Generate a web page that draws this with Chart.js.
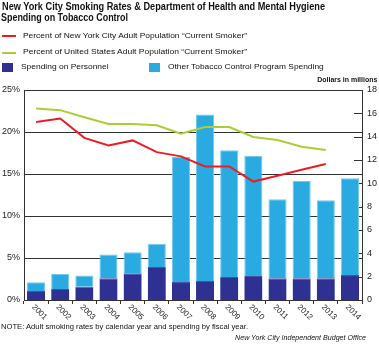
<!DOCTYPE html>
<html>
<head>
<meta charset="utf-8">
<script src="https://cdn.jsdelivr.net/npm/chart.js@4"></script>
<style>
  body { margin: 0; background: #fff; }
  #wrap { position: relative; width: 379px; height: 345px; font-family: "Liberation Sans", Arial, sans-serif; color: #111; }
  #wrap canvas { position: absolute; left: 0; top: 0; }
  .t { position: absolute; white-space: nowrap; line-height: 1; transform-origin: left top; }
  .r { transform-origin: right top; }
  .title { font-weight: bold; font-size: 10px; }
  .leg { font-size: 8px; }
  .swatch { position: absolute; }
</style>
</head>
<body>
<div id="wrap">
  <canvas id="grafica" width="379" height="345"></canvas>
  <div class="t title" style="left:2px;top:1.5px" data-w="323">New York City Smoking Rates &amp; Department of Health and Mental Hygiene</div>
  <div class="t title" style="left:1px;top:12.8px" data-w="127">Spending on Tobacco Control</div>
  <div id="leyenda"></div>
  <div class="t r" style="right:2px;top:76px;font-size:7px;font-weight:bold" data-w="60">Dollars in millions</div>
  <div class="t" style="left:1px;top:322.8px;font-size:7px" data-w="247">NOTE: Adult smoking rates by calendar year and spending by fiscal year.</div>
  <div class="t r" style="right:13px;top:334px;font-size:7px;font-style:italic" data-w="131">New York City Independent Budget Office</div>
</div>
<script>
const years = ["2001", "2002", "2003", "2004", "2005", "2006", "2007", "2008", "2009", "2010", "2011", "2012", "2013", "2014"];
// millions of dollars
const personnel = [0.77, 0.94, 1.14, 1.86, 2.3, 2.83, 1.54, 1.63, 1.97, 2.06, 1.86, 1.86, 1.86, 2.14];
const otherSpending = [0.75, 1.29, 0.96, 2.04, 1.8, 2.0, 10.71, 14.27, 10.86, 10.28, 6.77, 8.34, 6.68, 8.29];
// percent current smokers, calendar year
const nycRate = [21.2, 21.6, 19.3, 18.4, 19.0, 17.6, 17.1, 15.9, 15.9, 14.1, 14.8, 15.5, 16.2, null];
const usRate = [22.8, 22.6, 21.75, 20.95, 20.95, 20.8, 19.8, 20.6, 20.6, 19.4, 19.05, 18.25, 17.85, null];

const pctTicks = { min: 0, max: 25, step: 5 };
const dollarTicks = { min: 0, max: 18, step: 2 };

const FONT = '"Liberation Sans", Arial, sans-serif';

// year labels turned clockwise
const etiquetasX = {
  id: "etiquetasX",
  afterDraw(chart) {
    const { ctx } = chart;
    const x = chart.scales.x;
    ctx.save();
    ctx.font = "8px " + FONT;
    ctx.fillStyle = "#222";
    ctx.textAlign = "left";
    ctx.textBaseline = "middle";
    chart.data.labels.forEach((lab, i) => {
      const px = x.getPixelForValue(i);
      ctx.save();
      ctx.translate(px - 3, x.top + 6);
      ctx.rotate(Math.PI / 4);
      ctx.fillText(lab, 0, 0);
      ctx.restore();
    });
    ctx.restore();
  }
};

// short tick marks inside the right axis, under the bars
const marcasDerecha = {
  id: "marcasDerecha",
  beforeDatasetsDraw(chart) {
    const { ctx } = chart;
    const y2 = chart.scales.y2;
    ctx.save();
    ctx.strokeStyle = "#333";
    ctx.lineWidth = 1;
    y2.ticks.forEach(t => {
      const py = Math.round(y2.getPixelForValue(t.value)) + 0.5;
      ctx.beginPath();
      ctx.moveTo(y2.left - 8, py);
      ctx.lineTo(y2.left, py);
      ctx.stroke();
    });
    ctx.restore();
  }
};

const chart = new Chart(document.getElementById("grafica"), {
  data: {
    labels: years,
    datasets: [
      {
        type: "line",
        label: "Percent of New York City Adult Population \u201cCurrent Smoker\u201d",
        data: nycRate,
        borderColor: "#ed1c24",
        backgroundColor: "#ed1c24",
        borderWidth: 2,
        pointRadius: 0,
        yAxisID: "y",
        order: 0
      },
      {
        type: "line",
        label: "Percent of United States Adult Population \u201cCurrent Smoker\u201d",
        data: usRate,
        borderColor: "#a8cf38",
        backgroundColor: "#a8cf38",
        borderWidth: 2,
        pointRadius: 0,
        yAxisID: "y",
        order: 0
      },
      {
        type: "bar",
        label: "Spending on Personnel",
        data: personnel,
        backgroundColor: "#2e3192",
        borderColor: "#4b4fa6",
        borderWidth: { top: 1, left: 0, right: 0, bottom: 0 },
        yAxisID: "y2",
        stack: "gasto",
        order: 1
      },
      {
        type: "bar",
        label: "Other Tobacco Control Program Spending",
        data: otherSpending,
        backgroundColor: "#29abe2",
        borderColor: "#74c9ee",
        borderWidth: { top: 1, left: 1, right: 1, bottom: 0 },
        yAxisID: "y2",
        stack: "gasto",
        order: 1
      }
    ]
  },
  options: {
    responsive: false,
    animation: false,
    layout: { padding: { top: 90, left: 0, right: 0, bottom: 0 } },
    datasets: { bar: { categoryPercentage: 1, barPercentage: 0.75 } },
    plugins: { legend: { display: false }, tooltip: { enabled: false } },
    scales: {
      x: {
        stacked: true,
        grid: { offset: true, drawOnChartArea: false, tickLength: 4, color: "#333" },
        border: { color: "#333" },
        ticks: { display: false },
        afterFit(s) { s.height = 45; }
      },
      y: {
        position: "left",
        stacked: false,
        min: pctTicks.min,
        max: pctTicks.max,
        ticks: { stepSize: pctTicks.step, callback: v => v + "%", font: { size: 9, family: FONT }, color: "#222", padding: 4 },
        grid: { color: "#333", drawTicks: false },
        border: { color: "#333" },
        afterFit(s) { s.width = 24; }
      },
      y2: {
        position: "right",
        stacked: true,
        min: dollarTicks.min,
        max: dollarTicks.max,
        ticks: { stepSize: dollarTicks.step, font: { size: 9, family: FONT }, color: "#222", padding: 5 },
        grid: { display: false, drawTicks: false },
        border: { display: true, color: "#333" },
        afterFit(s) { s.width = 17; }
      }
    }
  },
  plugins: [marcasDerecha, etiquetasX]
});

// legend from the datasets, placed like the original
const posLeyenda = [
  { x: 2, y: 31.5, w: 224 },
  { x: 2, y: 48.2, w: 224 },
  { x: 2, y: 63.2, w: 87.6 },
  { x: 149, y: 63.2, w: 155.7 }
];
document.getElementById("leyenda").innerHTML = chart.data.datasets.map((d, i) => {
  const p = posLeyenda[i];
  const color = d.backgroundColor;
  if (d.type === "line") {
    return `<div class="swatch" style="left:${p.x}px;top:${p.y + 3.8}px;width:14px;height:2px;background:${color}"></div>` +
      `<div class="t leg" style="left:${p.x + 21}px;top:${p.y}px" data-w="${p.w}">${d.label}</div>`;
  }
  return `<div class="swatch" style="left:${p.x}px;top:${p.y - 0.5}px;width:11px;height:9px;background:${color}"></div>` +
    `<div class="t leg" style="left:${p.x + 19}px;top:${p.y}px" data-w="${p.w}">${d.label}</div>`;
}).join("");

function ajustarTextos() {
  document.querySelectorAll("[data-w]").forEach(el => {
    el.style.transform = "none";
    const w = el.getBoundingClientRect().width;
    el.style.transform = `scaleX(${Number(el.dataset.w) / w})`;
  });
}
ajustarTextos();
</script>
</body>
</html>
